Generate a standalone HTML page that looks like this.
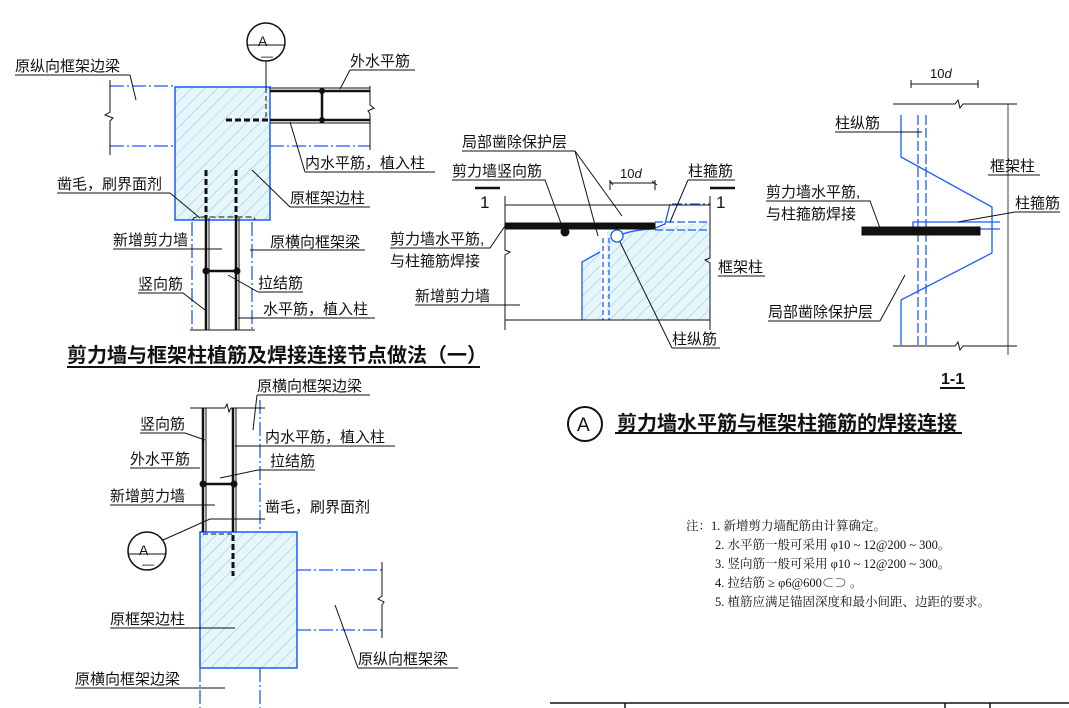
<!DOCTYPE html>
<html><head><meta charset="utf-8"><style>
body{margin:0;background:#fff}
svg{display:block}
text{font-family:"Liberation Sans","Noto Sans CJK SC",sans-serif;fill:#111}
.l{font-size:15px}
.n{font-size:12.5px;font-family:"Liberation Serif","Noto Serif CJK SC",serif}
</style></head><body>
<svg width="1069" height="708" viewBox="0 0 1069 708" xmlns="http://www.w3.org/2000/svg">
<defs>
<pattern id="h" width="9" height="9" patternUnits="userSpaceOnUse" patternTransform="rotate(45)">
<rect width="9" height="9" fill="#e6f6fb"/><line x1="0" y1="0" x2="0" y2="9" stroke="#7cc9d8" stroke-width="1"/>
</pattern>
</defs>
<g fill="none" stroke="#111" stroke-width="1">
<!-- ===== Top-left ===== -->
<rect x="175" y="87" width="95" height="133" fill="url(#h)" stroke="#1a5cff" stroke-width="1.5"/>
<g stroke="#1a5cff" stroke-width="1.3" stroke-dasharray="14,3,2,3">
<line x1="110" y1="86" x2="175" y2="86"/><line x1="110" y1="146" x2="175" y2="146"/>
<line x1="270" y1="146" x2="370" y2="146"/>
<line x1="192" y1="222" x2="192" y2="330"/><line x1="252" y1="222" x2="252" y2="330"/>
</g>
<path d="M110 80 V112 l-5 3 l8 3 l-3 3 V155"/>
<path d="M370 86 V105 l4 3 l-6 3 l2 3 V150"/>
<line x1="270" y1="88" x2="370" y2="88"/>
<line x1="270" y1="91" x2="370" y2="91" stroke-width="2.5"/>
<line x1="270" y1="120" x2="370" y2="120" stroke-width="2.5"/>
<line x1="270" y1="123" x2="370" y2="123"/>
<line x1="322" y1="90" x2="322" y2="120" stroke-width="2.5"/>
<line x1="226" y1="120" x2="268" y2="120" stroke-width="3" stroke-dasharray="6,3"/>
<line x1="266" y1="61" x2="266" y2="88"/><line x1="266" y1="88" x2="266" y2="120" stroke-dasharray="5,3"/>
<circle cx="266" cy="42" r="19" stroke-width="1.5"/><line x1="247" y1="45" x2="285" y2="45"/>
<line x1="206" y1="170" x2="206" y2="218" stroke-width="3" stroke-dasharray="6,3"/>
<line x1="236" y1="170" x2="236" y2="218" stroke-width="3" stroke-dasharray="6,3"/>
<line x1="206" y1="218" x2="206" y2="330" stroke-width="2.5"/><line x1="209" y1="218" x2="209" y2="330"/>
<line x1="236" y1="218" x2="236" y2="330" stroke-width="2.5"/><line x1="239" y1="218" x2="239" y2="330"/>
<path d="M193 220 q0 -3 4 -3 H252 q3 0 3 3" stroke-dasharray="6,3"/>
<line x1="208" y1="271" x2="237" y2="271" stroke-width="2.5"/>
<line x1="190" y1="330" x2="255" y2="330"/>
<!-- leaders -->
<path d="M15 75 H130 L136 100"/><path d="M350 70 H415 M350 70 L340 89"/>
<path d="M305 172 H435 M305 172 L290 122"/><path d="M57 193 H170 L200 218"/>
<path d="M290 207 H370 M290 207 L252 170"/><path d="M113 249 H222"/>
<path d="M250 250 H365"/><path d="M138 293 H183 L205 310"/>
<path d="M258 292 H303 M258 292 L228 275"/><path d="M238 318 H375"/>
<line x1="67" y1="367" x2="480" y2="367" stroke-width="2"/>
<!-- ===== Middle ===== -->
<polygon points="607,232 655,228 710,222 710,320 607,320" fill="url(#h)" stroke="none"/>
<polygon points="582,320 582,262 600,248 602,320" fill="url(#h)" stroke="none"/>
<path d="M582 320 V262 l18 -10" stroke="#1a5cff" stroke-width="1.3"/>
<line x1="603" y1="238" x2="603" y2="320" stroke="#1a5cff" stroke-width="1.3" stroke-dasharray="5,3"/>
<line x1="609" y1="238" x2="609" y2="320" stroke="#1a5cff" stroke-width="1.3" stroke-dasharray="5,3"/>
<line x1="672" y1="204" x2="710" y2="204" stroke="#1a5cff" stroke-width="1.3" stroke-dasharray="10,3,2,3"/>
<path d="M655 222 H710 M655 230 H710" stroke="#1a5cff" stroke-width="1.3" stroke-dasharray="8,3"/>
<path d="M623 234 q10 -4 30 -5 l12 -5 l5 -20" stroke="#1a5cff" stroke-width="1.3"/>
<circle cx="617" cy="236" r="6" stroke="#1a5cff" stroke-width="1.3" fill="#fff"/>
<line x1="505" y1="205" x2="710" y2="205"/><line x1="505" y1="320" x2="710" y2="320"/>
<path d="M505 196 V250 l5 2 l-5 3 V330"/><path d="M710 196 V258 l-5 2 l5 3 V330"/>
<rect x="505" y="223" width="150" height="6" fill="#111"/>
<circle cx="565" cy="232" r="4" fill="#111"/>
<line x1="475" y1="188" x2="500" y2="188" stroke-width="2.5"/><line x1="710" y1="188" x2="735" y2="188" stroke-width="2.5"/>
<path d="M610 181 L613 185 M610 183 H655 M652 181 L657 185 M610 180 V190 M655 180 V190"/>
<path d="M462 151 H575 M575 151 L598 236 M575 151 L622 216"/>
<path d="M452 180 H545 L562 226"/>
<path d="M688 180 H735 M688 180 L670 222"/>
<path d="M390 248 H490 L505 226"/><path d="M718 276 H765"/><path d="M415 305 H520"/>
<path d="M672 348 H720 M672 348 L620 242"/>
<!-- ===== Right 1-1 ===== -->
<path d="M911 80 V88 M978 80 V88 M911 84 H978"/>
<path d="M893 104 H955 l3 -4 l2 8 l3 -4 H1017"/><path d="M893 346 H955 l3 -4 l2 8 l3 -4 H1017"/>
<line x1="1008" y1="104" x2="1008" y2="355" stroke-width="0.8"/>
<path d="M901 115 V157 L992 207 V253 L901 300 V345" stroke="#1a5cff" stroke-width="1.3"/>
<line x1="918" y1="115" x2="918" y2="345" stroke="#1a5cff" stroke-width="1.3" stroke-dasharray="10,3"/>
<line x1="926" y1="115" x2="926" y2="345" stroke="#1a5cff" stroke-width="1.3" stroke-dasharray="10,3"/>
<path d="M913 230 V222 H1000 M980 229 H1000" stroke="#1a5cff" stroke-width="1.3"/>
<rect x="862" y="227" width="118" height="8" fill="#111"/>
<path d="M835 132 H922"/><path d="M990 175 H1040 M988 175 H990"/><path d="M1015 212 H1060 M1015 212 L958 222"/>
<path d="M766 201 H870 L880 228"/><path d="M768 321 H880 L905 275"/>
<line x1="940" y1="388" x2="965" y2="388" stroke-width="2"/>
<!-- ===== Bottom-left ===== -->
<rect x="200" y="532" width="97" height="136" fill="url(#h)" stroke="#1a5cff" stroke-width="1.5"/>
<g stroke="#1a5cff" stroke-width="1.3" stroke-dasharray="14,3,2,3">
<line x1="260" y1="400" x2="260" y2="532"/><line x1="200" y1="668" x2="200" y2="708"/><line x1="260" y1="668" x2="260" y2="708"/>
<line x1="297" y1="570" x2="382" y2="570"/><line x1="297" y1="630" x2="382" y2="630"/>
</g>
<path d="M382 562 V596 l-4 3 l6 3 l-2 3 V638"/>
<path d="M190 408 H225 l2 -4 l2 8 l2 -4 H265"/>
<line x1="203" y1="408" x2="203" y2="532" stroke-width="2.5"/><line x1="206" y1="408" x2="206" y2="532"/>
<line x1="233" y1="408" x2="233" y2="532" stroke-width="2.5"/><line x1="236" y1="408" x2="236" y2="532"/>
<line x1="233" y1="535" x2="233" y2="576" stroke-width="3" stroke-dasharray="6,3"/>
<line x1="204" y1="484" x2="234" y2="484" stroke-width="2.5"/>
<path d="M203 534 H234" stroke-dasharray="5,3"/>
<circle cx="147" cy="551" r="19" stroke-width="1.5"/><line x1="128" y1="554" x2="166" y2="554"/>
<path d="M163 540 L210 519 H265"/>
<path d="M257 395 H370 M257 395 L253 430"/><path d="M140 433 H185 L205 440"/>
<path d="M235 446 H395"/><path d="M130 468 H200"/><path d="M258 470 H315 M258 470 L220 478"/>
<path d="M110 505 H215"/><path d="M110 628 H235"/><path d="M358 668 H458 M358 668 L335 605"/>
<path d="M75 688 H225"/>
<!-- ===== A title ===== -->
<circle cx="585" cy="424" r="17" stroke-width="2"/>
<line x1="615" y1="433" x2="962" y2="433" stroke-width="2"/>
<path d="M550 703 H1069 M625 703 V708 M945 703 V708 M990 703 V708" stroke-width="1.5"/>
</g>
<!-- dots -->
<g fill="#111">
<circle cx="322" cy="91" r="3"/><circle cx="322" cy="120" r="3"/>
<circle cx="206" cy="271" r="3.5"/><circle cx="237" cy="271" r="3.5"/>
<circle cx="203" cy="484" r="3.5"/><circle cx="234" cy="484" r="3.5"/>
</g>
<!-- text -->
<text x="258" y="46" font-size="14">A</text><text x="261" y="60" font-size="12">—</text>
<text class="l" x="15" y="71">原纵向框架边梁</text>
<text class="l" x="350" y="66">外水平筋</text>
<text class="l" x="305" y="168">内水平筋，植入柱</text>
<text class="l" x="57" y="189">凿毛，刷界面剂</text>
<text class="l" x="290" y="203">原框架边柱</text>
<text class="l" x="113" y="245">新增剪力墙</text>
<text class="l" x="270" y="247">原横向框架梁</text>
<text class="l" x="138" y="289">竖向筋</text>
<text class="l" x="258" y="288">拉结筋</text>
<text class="l" x="263" y="314">水平筋，植入柱</text>
<text x="67" y="362" font-size="20" font-weight="bold">剪力墙与框架柱植筋及焊接连接节点做法（一）</text>
<text class="l" x="462" y="147">局部凿除保护层</text>
<text class="l" x="452" y="176">剪力墙竖向筋</text>
<text x="620" y="178" font-size="13" font-family="Liberation Serif,serif">10<tspan font-style="italic">d</tspan></text>
<text class="l" x="688" y="176">柱箍筋</text>
<text x="480" y="208" font-size="17">1</text><text x="716" y="208" font-size="17">1</text>
<text class="l" x="390" y="244">剪力墙水平筋,</text>
<text class="l" x="390" y="266">与柱箍筋焊接</text>
<text class="l" x="718" y="272">框架柱</text>
<text class="l" x="415" y="301">新增剪力墙</text>
<text class="l" x="672" y="344">柱纵筋</text>
<text x="930" y="78" font-size="13" font-family="Liberation Serif,serif">10<tspan font-style="italic">d</tspan></text>
<text class="l" x="835" y="128">柱纵筋</text>
<text class="l" x="990" y="171">框架柱</text>
<text class="l" x="766" y="197">剪力墙水平筋,</text>
<text class="l" x="766" y="219">与柱箍筋焊接</text>
<text class="l" x="1015" y="208">柱箍筋</text>
<text class="l" x="768" y="317">局部凿除保护层</text>
<text x="941" y="384" font-size="16" font-weight="bold">1-1</text>
<text class="l" x="257" y="391">原横向框架边梁</text>
<text class="l" x="140" y="429">竖向筋</text>
<text class="l" x="265" y="442">内水平筋，植入柱</text>
<text class="l" x="130" y="464">外水平筋</text>
<text class="l" x="270" y="466">拉结筋</text>
<text class="l" x="110" y="501">新增剪力墙</text>
<text class="l" x="265" y="512">凿毛，刷界面剂</text>
<text class="l" x="110" y="624">原框架边柱</text>
<text class="l" x="358" y="664">原纵向框架梁</text>
<text class="l" x="75" y="684">原横向框架边梁</text>
<text x="139" y="555" font-size="14">A</text><text x="142" y="568" font-size="12">—</text>
<text x="577" y="431" font-size="19">A</text>
<text x="617" y="430" font-size="20" font-weight="bold">剪力墙水平筋与框架柱箍筋的焊接连接</text>
<text class="n" x="686" y="530">注：1. 新增剪力墙配筋由计算确定。</text>
<text class="n" x="715" y="549">2. 水平筋一般可采用 φ10 ~ 12@200 ~ 300。</text>
<text class="n" x="715" y="568">3. 竖向筋一般可采用 φ10 ~ 12@200 ~ 300。</text>
<text class="n" x="715" y="587">4. 拉结筋 ≥ φ6@600⊂⊃ 。</text>
<text class="n" x="715" y="606">5. 植筋应满足锚固深度和最小间距、边距的要求。</text>
</svg>
</body></html>
